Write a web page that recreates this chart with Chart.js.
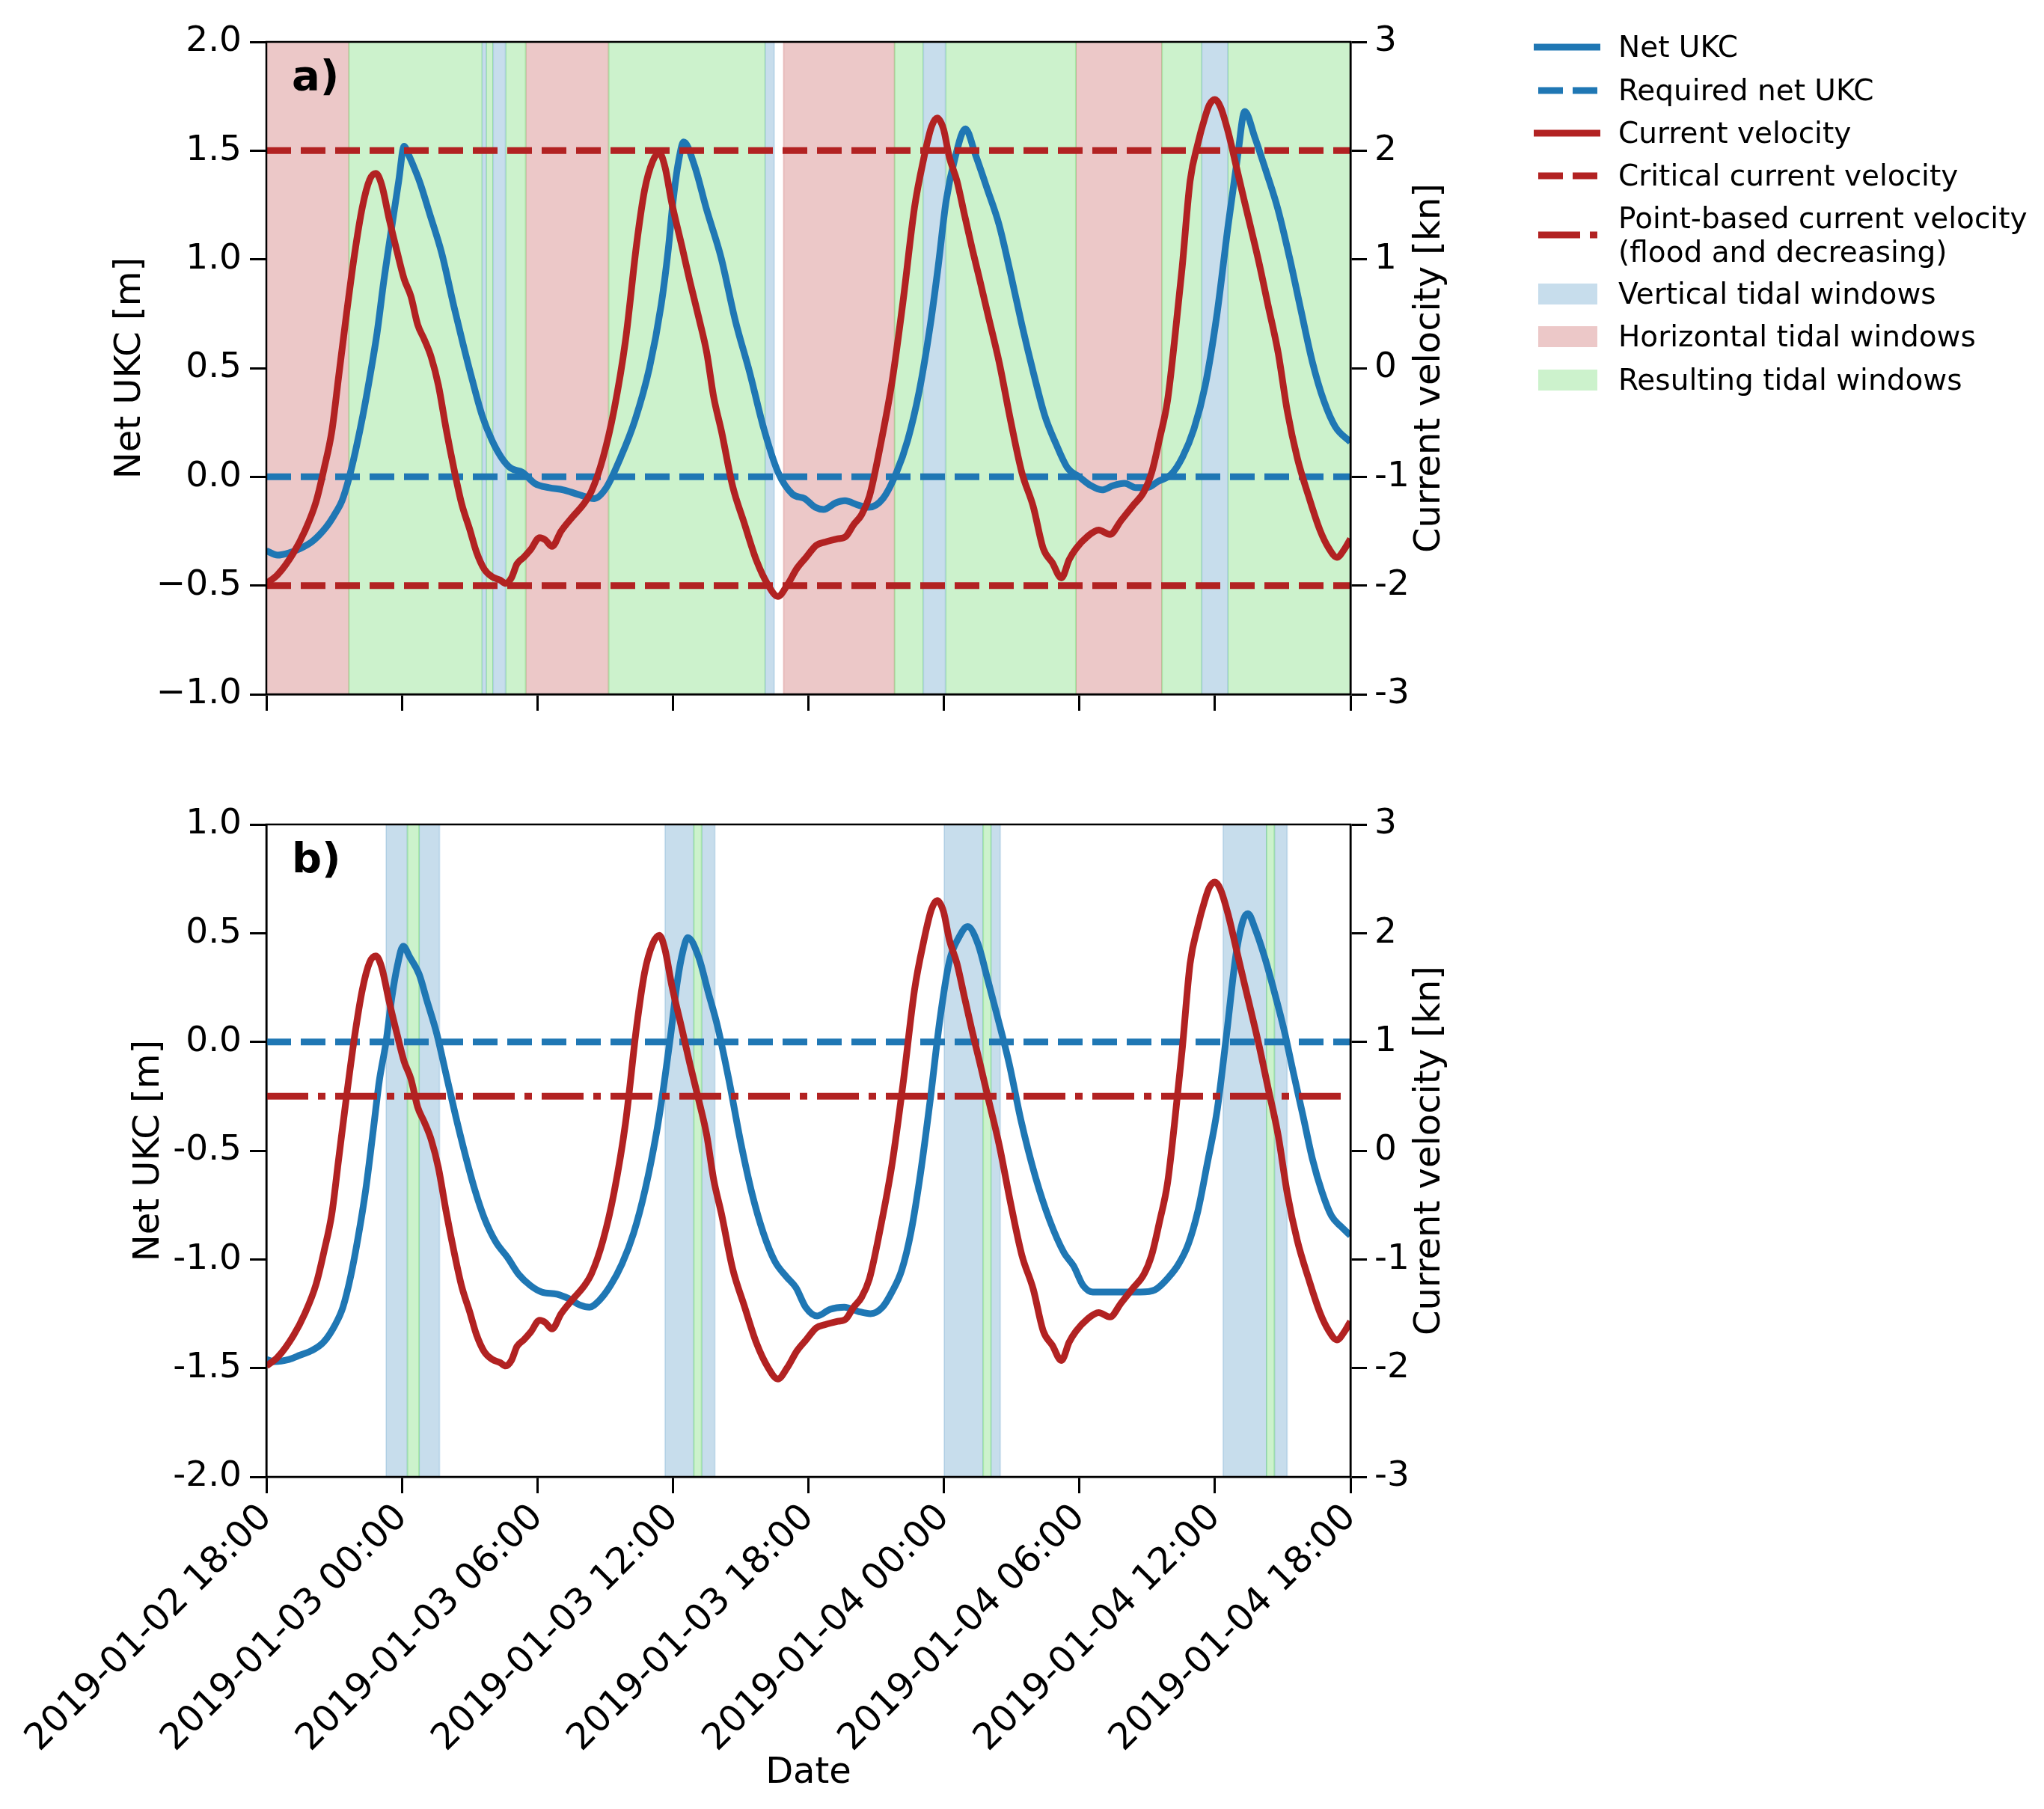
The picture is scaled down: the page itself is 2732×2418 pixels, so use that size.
<!DOCTYPE html>
<html>
<head>
<meta charset="utf-8">
<title>Tidal windows – net UKC and current velocity</title>
<script src="https://cdn.jsdelivr.net/npm/chart.js@4.4.1/dist/chart.umd.min.js"></script>
<style>
  html, body { margin: 0; padding: 0; background: #fff; }
  #page { position: relative; width: 2732px; height: 2418px; overflow: hidden; background: #fff;
          font-family: "DejaVu Sans", sans-serif; color: #000; }
  .panel { position: absolute; left: 0; width: 2732px; }
  #panelTop { top: 0; height: 1020px; }
  #panelBottom { top: 1020px; height: 1398px; }
  .lg-row { position: absolute; left: 2050px; display: flex; align-items: center; white-space: nowrap;
            font-size: 39px; line-height: 45px; }
  .lg-row svg { flex: none; margin-right: 24px; }
</style>
</head>
<body>
<div id="page">
  <div class="panel" id="panelTop"><canvas id="chartTop"></canvas></div>
  <div class="panel" id="panelBottom"><canvas id="chartBottom"></canvas></div>

  <!-- legend (figure level, right of both panels) -->
  <div class="lg-row" style="top:40px;height:45px">
    <svg width="89" height="40"><line x1="0" y1="20" x2="89" y2="20" stroke="#1f77b4" stroke-width="9"/></svg>Net UKC</div>
  <div class="lg-row" style="top:98px;height:45px">
    <svg width="89" height="40"><line x1="6" y1="20" x2="85" y2="20" stroke="#1f77b4" stroke-width="9" stroke-dasharray="33 13"/></svg>Required net UKC</div>
  <div class="lg-row" style="top:155px;height:45px">
    <svg width="89" height="40"><line x1="0" y1="20" x2="89" y2="20" stroke="#b22222" stroke-width="9"/></svg>Current velocity</div>
  <div class="lg-row" style="top:212px;height:45px">
    <svg width="89" height="40"><line x1="6" y1="20" x2="85" y2="20" stroke="#b22222" stroke-width="9" stroke-dasharray="33 13"/></svg>Critical current velocity</div>
  <div class="lg-row" style="top:269px;height:90px">
    <svg width="89" height="40"><line x1="6" y1="20" x2="85" y2="20" stroke="#b22222" stroke-width="9" stroke-dasharray="56 13 10 13"/></svg><span>Point-based current velocity<br>(flood and decreasing)</span></div>
  <div class="lg-row" style="top:370px;height:45px">
    <svg width="89" height="40"><rect x="6" y="6" width="79" height="28" fill="#c7ddec"/></svg>Vertical tidal windows</div>
  <div class="lg-row" style="top:427px;height:45px">
    <svg width="89" height="40"><rect x="6" y="6" width="79" height="28" fill="#ecc8c8"/></svg>Horizontal tidal windows</div>
  <div class="lg-row" style="top:485px;height:45px">
    <svg width="89" height="40"><rect x="6" y="6" width="79" height="28" fill="#ccf2cc"/></svg>Resulting tidal windows</div>
</div>

<script>
// ============================================================================
// Tidal windows chart: net UKC (left axis) vs current velocity (right axis)
// time in hours after 2019-01-02 18:00
// ============================================================================

/* ---------------- axes ---------------- */
const xTickHours = [0, 6, 12, 18, 24, 30, 36, 42, 48];
const xTickLabels = [
  "2019-01-02 18:00", "2019-01-03 00:00", "2019-01-03 06:00",
  "2019-01-03 12:00", "2019-01-03 18:00", "2019-01-04 00:00",
  "2019-01-04 06:00", "2019-01-04 12:00", "2019-01-04 18:00",
];
const ukcTopTicks = [-1, -0.5, 0, 0.5, 1, 1.5, 2];
const ukcBottomTicks = [-2, -1.5, -1, -0.5, 0, 0.5, 1];
const velocityTicks = [-3, -2, -1, 0, 1, 2, 3];

/* ---------------- thresholds ---------------- */
const requiredNetUkc = 0;
const criticalVelocity = [2, -2];
const pointBasedVelocity = 0.5;

/* ---------------- current velocity [kn] (same in both panels) ---------------- */
const currentHours = [
  0, 0.5, 1.2, 1.7, 2.2, 2.55, 2.9, 3.2, 3.55, 3.9,
  4.25, 4.57, 4.85, 5.1, 5.45, 5.8, 6.1, 6.4, 6.7, 7.0,
  7.3, 7.62, 7.96, 8.3, 8.65, 9.0, 9.3, 9.65, 10.0, 10.35,
  10.6, 10.85, 11.1, 11.4, 11.7, 12.1, 12.35, 12.65, 13.05, 13.55,
  14.05, 14.4, 14.9, 15.4, 15.9, 16.4, 16.75, 17.1, 17.4, 17.65,
  17.95, 18.4, 18.75, 19.15, 19.5, 19.8, 20.15, 20.65, 21.15, 21.7,
  22.2, 22.65, 23.05, 23.5, 23.9, 24.35, 24.75, 25.3, 25.65, 26.0,
  26.35, 26.7, 27.2, 27.7, 28.2, 28.7, 29.1, 29.45, 29.7, 29.98,
  30.24, 30.58, 30.9, 31.25, 31.6, 31.95, 32.45, 32.95, 33.45, 33.95,
  34.4, 34.8, 35.2, 35.55, 35.85, 36.35, 36.85, 37.35, 37.85, 38.35,
  38.85, 39.2, 39.55, 39.9, 40.2, 40.55, 40.9, 41.25, 41.55, 41.75,
  42.0, 42.25, 42.6, 42.95, 43.3, 43.6, 43.95, 44.35, 44.8, 45.2,
  45.65, 46.15, 46.65, 47.05, 47.4, 47.75, 48.0,
];
const currentVelocity = [
  -1.98, -1.90, -1.70, -1.50, -1.23, -0.93, -0.58, -0.08, 0.50, 1.04,
  1.48, 1.73, 1.79, 1.69, 1.36, 1.06, 0.82, 0.66, 0.40, 0.26,
  0.10, -0.16, -0.56, -0.92, -1.25, -1.48, -1.69, -1.85, -1.92, -1.95,
  -1.98, -1.93, -1.80, -1.74, -1.67, -1.56, -1.58, -1.64, -1.50, -1.37,
  -1.25, -1.13, -0.83, -0.38, 0.25, 1.15, 1.64, 1.90, 1.98, 1.85,
  1.52, 1.12, 0.80, 0.46, 0.14, -0.26, -0.58, -1.09, -1.42, -1.77,
  -1.99, -2.10, -2.00, -1.84, -1.74, -1.63, -1.60, -1.57, -1.55, -1.44,
  -1.35, -1.18, -0.70, -0.13, 0.63, 1.48, 1.92, 2.22, 2.30, 2.20,
  1.94, 1.72, 1.42, 1.10, 0.80, 0.49, 0.05, -0.48, -0.96, -1.27,
  -1.66, -1.79, -1.93, -1.76, -1.66, -1.55, -1.49, -1.53, -1.40, -1.27,
  -1.14, -0.96, -0.65, -0.30, 0.23, 0.93, 1.72, 2.07, 2.30, 2.42,
  2.47, 2.40, 2.16, 1.85, 1.54, 1.28, 0.97, 0.58, 0.14, -0.39,
  -0.83, -1.18, -1.49, -1.66, -1.74, -1.66, -1.57,
];

/* ---------------- net UKC [m], panel a) ---------------- */
const ukcTopHours = [
  0, 0.5, 1.0, 1.5, 2.0, 2.5, 2.8, 3.1, 3.35, 3.65,
  3.95, 4.27, 4.6, 4.9, 5.2, 5.54, 5.86, 6.1, 6.3, 6.55,
  6.81, 7.23, 7.76, 8.29, 8.71, 9.13, 9.56, 9.98, 10.4, 10.82,
  11.35, 11.88, 12.52, 13.15, 13.78, 14.52, 15.05, 15.69, 16.32, 16.96,
  17.48, 17.8, 18.01, 18.25, 18.48, 18.96, 19.49, 20.13, 20.76, 21.4,
  22.03, 22.66, 23.3, 23.83, 24.3, 24.67, 25.2, 25.62, 26.2, 26.68,
  27.3, 27.9, 28.4, 28.9, 29.4, 29.75, 30.1, 30.5, 30.95, 31.4,
  31.93, 32.44, 32.94, 33.45, 33.96, 34.47, 34.97, 35.48, 35.99, 36.5,
  37.0, 37.5, 38.0, 38.5, 39.0, 39.5, 40.05, 40.56, 41.07, 41.57,
  42.08, 42.59, 43.0, 43.32, 43.77, 44.28, 44.79, 45.3, 45.8, 46.31,
  46.82, 47.33, 48.0,
];
const ukcTop = [
  -0.34, -0.36, -0.35, -0.33, -0.30, -0.25, -0.21, -0.16, -0.11, -0.01,
  0.12, 0.28, 0.47, 0.66, 0.90, 1.14, 1.36, 1.52, 1.48, 1.42,
  1.35, 1.21, 1.03, 0.79, 0.61, 0.44, 0.28, 0.17, 0.09, 0.04,
  0.02, -0.03, -0.05, -0.06, -0.08, -0.10, -0.05, 0.09, 0.26, 0.50,
  0.79, 1.05, 1.27, 1.45, 1.54, 1.43, 1.23, 1.01, 0.72, 0.48,
  0.22, 0.02, -0.08, -0.10, -0.14, -0.15, -0.12, -0.11, -0.13, -0.14,
  -0.10, 0.02, 0.17, 0.39, 0.70, 0.97, 1.27, 1.47, 1.60, 1.48,
  1.32, 1.16, 0.94, 0.70, 0.48, 0.28, 0.15, 0.04, 0.00, -0.04,
  -0.06, -0.04, -0.03, -0.05, -0.05, -0.02, 0.01, 0.09, 0.22, 0.42,
  0.74, 1.16, 1.47, 1.68, 1.56, 1.40, 1.23, 1.01, 0.77, 0.53,
  0.35, 0.23, 0.16,
];

/* ---------------- net UKC [m], panel b) ---------------- */
const ukcBottomHours = [
  0, 0.34, 1.0, 1.5, 2.0, 2.54, 3.05, 3.39, 3.73, 4.06,
  4.4, 4.74, 5.0, 5.3, 5.55, 5.8, 6.06, 6.35, 6.77, 7.11,
  7.54, 7.96, 8.38, 8.81, 9.23, 9.65, 10.16, 10.67, 11.18, 11.69,
  12.19, 12.87, 13.38, 13.89, 14.31, 14.73, 15.24, 15.75, 16.26, 16.77,
  17.27, 17.6, 17.9, 18.2, 18.45, 18.66, 19.14, 19.56, 19.98, 20.49,
  21.0, 21.51, 22.01, 22.52, 23.03, 23.45, 23.88, 24.39, 24.95, 25.59,
  26.22, 26.75, 27.28, 27.7, 28.13, 28.55, 28.97, 29.39, 29.82, 30.24,
  30.66, 31.05, 31.51, 31.93, 32.36, 32.89, 33.41, 34.05, 34.68, 35.32,
  35.74, 36.16, 36.59, 37.43, 38.7, 39.34, 39.97, 40.4, 40.82, 41.24,
  41.66, 42.09, 42.51, 42.93, 43.25, 43.46, 43.78, 44.2, 44.63, 45.05,
  45.47, 45.9, 46.32, 46.74, 47.16, 47.59, 48.0,
];
const ukcBottom = [
  -1.46, -1.47, -1.46, -1.44, -1.42, -1.38, -1.30, -1.22, -1.08, -0.90,
  -0.68, -0.40, -0.18, 0.00, 0.20, 0.35, 0.44, 0.39, 0.31, 0.19,
  0.04, -0.15, -0.34, -0.52, -0.68, -0.81, -0.92, -0.99, -1.07, -1.12,
  -1.15, -1.16, -1.18, -1.21, -1.22, -1.19, -1.12, -1.02, -0.88, -0.68,
  -0.42, -0.20, 0.03, 0.28, 0.42, 0.48, 0.39, 0.23, 0.07, -0.18,
  -0.46, -0.70, -0.88, -1.01, -1.08, -1.13, -1.22, -1.26, -1.23, -1.22,
  -1.24, -1.25, -1.22, -1.15, -1.05, -0.87, -0.60, -0.27, 0.10, 0.37,
  0.48, 0.53, 0.45, 0.29, 0.12, -0.10, -0.36, -0.62, -0.82, -0.97,
  -1.03, -1.12, -1.15, -1.15, -1.15, -1.14, -1.08, -1.02, -0.93, -0.78,
  -0.56, -0.32, 0.03, 0.40, 0.56, 0.59, 0.52, 0.39, 0.23, 0.06,
  -0.14, -0.34, -0.54, -0.69, -0.80, -0.85, -0.89,
];

/* ---------------- tidal windows [start h, end h] ---------------- */
const topHorizontalWindows = [[0, 3.66], [11.48, 15.16], [22.9, 27.82], [35.84, 39.66]];
const topVerticalWindows = [[9.56, 9.73], [10.04, 10.59], [22.09, 22.49], [29.09, 30.07], [41.42, 42.57]];
const topResultingWindows = [[3.66, 9.56], [9.73, 10.04], [10.59, 11.48], [15.16, 22.09],
                             [27.82, 29.09], [30.07, 35.84], [39.66, 41.42], [42.57, 48]];
const bottomVerticalWindows = [[5.3, 6.25], [6.76, 7.67], [17.65, 18.93], [19.27, 19.86],
                               [30.01, 31.74], [32.08, 32.5], [42.36, 44.29], [44.63, 45.2]];
const bottomResultingWindows = [[6.25, 6.76], [18.93, 19.27], [31.74, 32.08], [44.29, 44.63]];

/* ============================================================
   Styling
============================================================ */
const FONT = '"DejaVu Sans", sans-serif';
const BLUE = "#1f77b4";
const RED = "#b22222";
const LINE_W = 9;
const DASH = [33, 13];
const DASH_DOT = [56, 13, 10, 13];
const WINDOW_FILL = { vertical: "#c7ddec", horizontal: "#ecc8c8", resulting: "#ccf2cc" };
const WINDOW_EDGE = {
  vertical: "rgba(31,119,180,0.15)",
  horizontal: "rgba(178,34,34,0.15)",
  resulting: "rgba(50,205,50,0.25)",
};

Chart.defaults.font.family = FONT;
Chart.defaults.color = "#000";

const toPoints = (hours, values) => hours.map((h, i) => ({ x: h, y: values[i] }));
const levelLine = (y) => [
  { x: xTickHours[0], y },
  { x: xTickHours[xTickHours.length - 1], y },
];

function lineSet(label, data, axis, color, dash, order) {
  return {
    label, data, yAxisID: axis, order,
    borderColor: color, backgroundColor: color,
    borderWidth: LINE_W, borderDash: dash || [],
    borderCapStyle: "butt", borderJoinStyle: "round",
    cubicInterpolationMode: dash ? "default" : "monotone",
    pointRadius: 0, tension: 0, fill: false, clip: 0,
  };
}

/* ============================================================
   Plugin: shaded tidal windows, frame, panel letter, right title
============================================================ */
function tidalWindowsPlugin(windows, panelLabel) {
  return {
    id: "tidalWindows",
    beforeDatasetsDraw(chart) {
      const { ctx, chartArea: a, scales } = chart;
      const x = scales.x;
      ctx.save();
      ctx.beginPath();
      ctx.rect(a.left, a.top, a.right - a.left, a.bottom - a.top);
      ctx.clip();
      windows.forEach(({ kind, spans }) => {
        spans.forEach(([s, e]) => {
          const x0 = x.getPixelForValue(s);
          const x1 = x.getPixelForValue(e);
          ctx.fillStyle = WINDOW_FILL[kind];
          ctx.fillRect(x0, a.top, x1 - x0, a.bottom - a.top);
          ctx.strokeStyle = WINDOW_EDGE[kind];
          ctx.lineWidth = 2;
          ctx.beginPath();
          ctx.moveTo(x0, a.top); ctx.lineTo(x0, a.bottom);
          ctx.moveTo(x1, a.top); ctx.lineTo(x1, a.bottom);
          ctx.stroke();
        });
      });
      ctx.restore();
    },
    afterDraw(chart) {
      const { ctx, chartArea: a } = chart;
      ctx.save();
      ctx.strokeStyle = "#000";
      ctx.lineWidth = 2.5;
      ctx.strokeRect(a.left, a.top, a.right - a.left, a.bottom - a.top);
      ctx.fillStyle = "#000";
      ctx.font = `bold 56px ${FONT}`;
      ctx.textBaseline = "alphabetic";
      ctx.textAlign = "left";
      ctx.fillText(panelLabel, a.left + 34, a.top + 64);

      // right axis title, reading bottom-to-top like the left one
      ctx.translate(a.right + 107, (a.top + a.bottom) / 2);
      ctx.rotate(-Math.PI / 2);
      ctx.font = `48px ${FONT}`;
      ctx.textAlign = "center";
      ctx.textBaseline = "middle";
      ctx.fillText("Current velocity [kn]", 0, 0);
      ctx.restore();
    },
  };
}

/* ============================================================
   Scales (axis boxes fixed so both panels line up)
============================================================ */
const tickMarks = { drawOnChartArea: false, drawTicks: true, tickLength: 22, tickWidth: 3, tickColor: "#000", color: "#000" };
const spine = { display: true, color: "#000", width: 2.5 };

function panelScales(o) {
  return {
    x: {
      type: "linear", position: "bottom",
      min: xTickHours[0], max: xTickHours[xTickHours.length - 1],
      afterBuildTicks: (s) => { s.ticks = xTickHours.map((v) => ({ value: v })); },
      afterFit: (s) => { s.height = o.xAxisHeight; },
      ticks: {
        display: o.showDates, autoSkip: false, minRotation: 45, maxRotation: 45,
        padding: 4, font: { size: 49 },
        callback: (v, i) => xTickLabels[i],
      },
      grid: tickMarks,
      border: spine,
      title: { display: o.showDates, text: "Date", font: { size: 48 }, padding: { top: 0, bottom: 19 } },
    },
    yL: {
      type: "linear", position: "left",
      min: o.leftTicks[0], max: o.leftTicks[o.leftTicks.length - 1],
      afterBuildTicks: (s) => { s.ticks = o.leftTicks.map((v) => ({ value: v })); },
      afterFit: (s) => { s.width = 356; },
      ticks: { padding: 11, font: { size: 47 }, callback: o.leftFormat },
      grid: tickMarks,
      border: spine,
      title: { display: true, text: "Net UKC [m]", font: { size: 48 }, padding: { top: o.leftTitlePad, bottom: 0 } },
    },
    yR: {
      type: "linear", position: "right",
      min: velocityTicks[0], max: velocityTicks[velocityTicks.length - 1],
      afterBuildTicks: (s) => { s.ticks = velocityTicks.map((v) => ({ value: v })); },
      afterFit: (s) => { s.width = 185; },
      ticks: { padding: 10, font: { size: 47 }, callback: (v) => String(v) },
      grid: tickMarks,
      border: spine,
      title: { display: false },
    },
  };
}

function buildPanel(canvasId, o) {
  return new Chart(document.getElementById(canvasId), {
    type: "line",
    data: { datasets: o.datasets },
    options: {
      responsive: true,
      maintainAspectRatio: false,
      devicePixelRatio: 1,
      animation: false,
      parsing: false,
      layout: { padding: { top: o.padTop, left: 0, right: 742, bottom: 0 } },
      plugins: { legend: { display: false }, tooltip: { enabled: false }, title: { display: false } },
      scales: panelScales(o),
    },
    plugins: [tidalWindowsPlugin(o.windows, o.label)],
  });
}

/* ============================================================
   Panel a) – vertical, horizontal and resulting windows
============================================================ */
buildPanel("chartTop", {
  label: "a)",
  padTop: 56,
  xAxisHeight: 92,
  showDates: false,
  leftTicks: ukcTopTicks,
  leftFormat: (v) => Number(v).toFixed(1).replace("-", "\u2212"),
  leftTitlePad: 146,
  windows: [
    { kind: "horizontal", spans: topHorizontalWindows },
    { kind: "resulting", spans: topResultingWindows },
    { kind: "vertical", spans: topVerticalWindows },
  ],
  datasets: [
    lineSet("Current velocity", toPoints(currentHours, currentVelocity), "yR", RED, null, 1),
    lineSet("Critical current velocity", levelLine(criticalVelocity[0]), "yR", RED, DASH, 1),
    lineSet("Critical current velocity (ebb)", levelLine(criticalVelocity[1]), "yR", RED, DASH, 1),
    lineSet("Net UKC", toPoints(ukcTopHours, ukcTop), "yL", BLUE, null, 2),
    lineSet("Required net UKC", levelLine(requiredNetUkc), "yL", BLUE, DASH, 2),
  ],
});

/* ============================================================
   Panel b) – point-based current velocity
============================================================ */
buildPanel("chartBottom", {
  label: "b)",
  padTop: 82,
  xAxisHeight: 444,
  showDates: true,
  leftTicks: ukcBottomTicks,
  leftFormat: (v) => Number(v).toFixed(1),
  leftTitlePad: 171,
  windows: [
    { kind: "vertical", spans: bottomVerticalWindows },
    { kind: "resulting", spans: bottomResultingWindows },
  ],
  datasets: [
    lineSet("Current velocity", toPoints(currentHours, currentVelocity), "yR", RED, null, 1),
    lineSet("Point-based current velocity", levelLine(pointBasedVelocity), "yR", RED, DASH_DOT, 1),
    lineSet("Net UKC", toPoints(ukcBottomHours, ukcBottom), "yL", BLUE, null, 2),
    lineSet("Required net UKC", levelLine(requiredNetUkc), "yL", BLUE, DASH, 2),
  ],
});
</script>
</body>
</html>
